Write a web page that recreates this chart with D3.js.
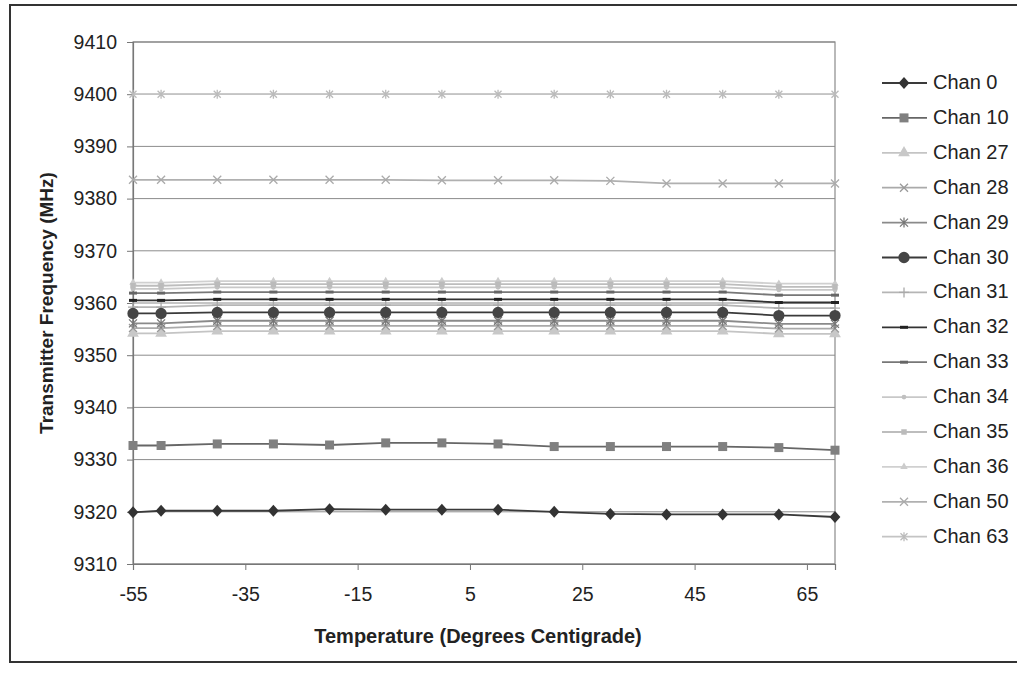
<!DOCTYPE html>
<html>
<head>
<meta charset="utf-8">
<script src="https://cdn.jsdelivr.net/npm/d3@7"></script>
<style>
  body { margin: 0; background: #fff; }
  svg { display: block; font-family: "Liberation Sans", Arial, sans-serif; }
</style>
</head>
<body>
<svg id="chart" width="1017" height="674"></svg>
<script>
// temperatures (deg C) where each channel was measured
const temps = [-55, -50, -40, -30, -20, -10, 0, 10, 20, 30, 40, 50, 60, 70];

const chan0  = [9319.9, 9320.2, 9320.2, 9320.2, 9320.5, 9320.4, 9320.4, 9320.4, 9320.0, 9319.6, 9319.5, 9319.5, 9319.5, 9319.0];
const chan10 = [9332.7, 9332.7, 9333.0, 9333.0, 9332.8, 9333.2, 9333.2, 9333.0, 9332.5, 9332.5, 9332.5, 9332.5, 9332.3, 9331.8];
const chan27 = [9354.2, 9354.2, 9354.6, 9354.6, 9354.6, 9354.6, 9354.6, 9354.6, 9354.6, 9354.6, 9354.6, 9354.6, 9354.1, 9354.1];
const chan28 = [9355.2, 9355.2, 9355.6, 9355.6, 9355.6, 9355.6, 9355.6, 9355.6, 9355.6, 9355.6, 9355.6, 9355.6, 9355.1, 9355.1];
const chan29 = [9356.1, 9356.1, 9356.6, 9356.6, 9356.6, 9356.6, 9356.6, 9356.6, 9356.6, 9356.6, 9356.6, 9356.6, 9356.0, 9356.0];
const chan30 = [9358.0, 9358.0, 9358.2, 9358.2, 9358.2, 9358.2, 9358.2, 9358.2, 9358.2, 9358.2, 9358.2, 9358.2, 9357.6, 9357.6];
const chan31 = [9359.2, 9359.2, 9359.6, 9359.6, 9359.6, 9359.6, 9359.6, 9359.6, 9359.6, 9359.6, 9359.6, 9359.6, 9359.0, 9359.0];
const chan32 = [9360.5, 9360.5, 9360.7, 9360.7, 9360.7, 9360.7, 9360.7, 9360.7, 9360.7, 9360.7, 9360.7, 9360.7, 9360.1, 9360.1];
const chan33 = [9361.9, 9361.9, 9362.1, 9362.1, 9362.1, 9362.1, 9362.1, 9362.1, 9362.1, 9362.1, 9362.1, 9362.1, 9361.5, 9361.5];
const chan34 = [9362.7, 9362.7, 9363.0, 9363.0, 9363.0, 9363.0, 9363.0, 9363.0, 9363.0, 9363.0, 9363.0, 9363.0, 9362.5, 9362.5];
const chan35 = [9363.3, 9363.3, 9363.6, 9363.6, 9363.6, 9363.6, 9363.6, 9363.6, 9363.6, 9363.6, 9363.6, 9363.6, 9363.1, 9363.1];
const chan36 = [9363.9, 9363.9, 9364.2, 9364.2, 9364.2, 9364.2, 9364.2, 9364.2, 9364.2, 9364.2, 9364.2, 9364.2, 9363.7, 9363.7];
const chan50 = [9383.6, 9383.6, 9383.6, 9383.6, 9383.6, 9383.6, 9383.5, 9383.5, 9383.5, 9383.4, 9382.9, 9382.9, 9382.9, 9382.9];
const chan63 = [9400.0, 9400.0, 9400.0, 9400.0, 9400.0, 9400.0, 9400.0, 9400.0, 9400.0, 9400.0, 9400.0, 9400.0, 9400.0, 9400.0];

const channelNames = ["Chan 0", "Chan 10", "Chan 27", "Chan 28", "Chan 29", "Chan 30", "Chan 31",
  "Chan 32", "Chan 33", "Chan 34", "Chan 35", "Chan 36", "Chan 50", "Chan 63"];
const channelValues = [chan0, chan10, chan27, chan28, chan29, chan30, chan31,
  chan32, chan33, chan34, chan35, chan36, chan50, chan63];

const xTicks = [-55, -35, -15, 5, 25, 45, 65];
const yTicks = [9310, 9320, 9330, 9340, 9350, 9360, 9370, 9380, 9390, 9400, 9410];

// look of each series: marker kind, line colour, marker colour
const styles = [
  { m: "diamond", line: "#3a3a3a", fill: "#333", s: 6 },
  { m: "square",  line: "#666",    fill: "#808080", s: 81 },
  { m: "triangle",line: "#c4c4c4", fill: "#c8c8c8", s: 60 },
  { m: "x",       line: "#aaa",    fill: "#999", s: 4 },
  { m: "star",    line: "#8a8a8a", fill: "#777", s: 4 },
  { m: "circle",  line: "#3a3a3a", fill: "#454545", s: 100 },
  { m: "plus",    line: "#b5b5b5", fill: "#aaa", s: 5 },
  { m: "dash",    line: "#333",    fill: "#222", s: 4 },
  { m: "dash",    line: "#777",    fill: "#666", s: 4 },
  { m: "circle",  line: "#c8c8c8", fill: "#c0c0c0", s: 18 },
  { m: "square",  line: "#bdbdbd", fill: "#bbb", s: 30 },
  { m: "triangle",line: "#d0d0d0", fill: "#ccc", s: 24 },
  { m: "x",       line: "#b0b0b0", fill: "#aaa", s: 4 },
  { m: "star",    line: "#c4c4c4", fill: "#bbb", s: 3.5 }
];

const svg = d3.select("#chart");

// page frame around the figure
svg.append("rect")
  .attr("x", 10).attr("y", 5).attr("width", 1030).attr("height", 657)
  .attr("fill", "none").attr("stroke", "#333").attr("stroke-width", 2);

const plot = { left: 133, right: 835, top: 42, bottom: 564 };

const x = d3.scaleLinear().domain([-55, 70]).range([plot.left, plot.right]);
const y = d3.scaleLinear().domain([9310, 9410]).range([plot.bottom, plot.top]);

// horizontal gridlines
svg.append("g")
  .selectAll("line")
  .data(yTicks)
  .join("line")
    .attr("x1", plot.left).attr("x2", plot.right)
    .attr("y1", d => y(d)).attr("y2", d => y(d))
    .attr("stroke", "#8c8c8c").attr("stroke-width", 1);

// plot box
svg.append("rect")
  .attr("x", plot.left).attr("y", plot.top)
  .attr("width", plot.right - plot.left).attr("height", plot.bottom - plot.top)
  .attr("fill", "none").attr("stroke", "#8a8a8a").attr("stroke-width", 1.2);

const yAxis = svg.append("g")
  .attr("transform", `translate(${plot.left},0)`)
  .call(d3.axisLeft(y).tickValues(yTicks).tickFormat(d => String(d)).tickSize(6).tickPadding(10));

const xAxis = svg.append("g")
  .attr("transform", `translate(0,${plot.bottom})`)
  .call(d3.axisBottom(x).tickValues(xTicks).tickFormat(d => String(d)).tickSize(6).tickPadding(17));

[yAxis, xAxis].forEach(a => {
  a.select(".domain").attr("stroke", "#777").attr("stroke-width", 1.2);
  a.selectAll(".tick line").attr("stroke", "#777");
  a.selectAll(".tick text")
    .attr("fill", "#222")
    .style("font-size", "19.5px")
    .style("font-family", "'Liberation Sans', Arial, sans-serif");
});

// marker drawing
function marker(g, st) {
  const k = st.m;
  if (k === "diamond") {
    const r = st.s;
    g.append("path").attr("d", `M0,${-r}L${r * 0.9},0L0,${r}L${-r * 0.9},0Z`)
      .attr("fill", st.fill);
  } else if (k === "square" || k === "triangle" || k === "circle") {
    const type = { square: d3.symbolSquare, triangle: d3.symbolTriangle, circle: d3.symbolCircle }[k];
    g.append("path").attr("d", d3.symbol().type(type).size(st.s)())
      .attr("fill", st.fill).attr("stroke", "none");
  } else {
    const r = st.s;
    let d = "";
    if (k === "x") d = `M${-r},${-r}L${r},${r}M${-r},${r}L${r},${-r}`;
    if (k === "star") d = `M${-r},${-r}L${r},${r}M${-r},${r}L${r},${-r}M0,${-r - 1}L0,${r + 1}`;
    if (k === "plus") d = `M${-r},0L${r},0M0,${-r}L0,${r}`;
    if (k === "dash") d = `M${-r},0L${r},0`;
    g.append("path").attr("d", d).attr("fill", "none")
      .attr("stroke", st.fill).attr("stroke-width", k === "dash" ? 3 : 1.3);
  }
}

const line = d3.line().x(d => x(d[0])).y(d => y(d[1]));

const seriesG = svg.append("g");
// draw light series first so the dark ones sit on top
const order = d3.range(channelNames.length).sort((a, b) =>
  d3.hsl(styles[b].line).l - d3.hsl(styles[a].line).l);

order.forEach(i => {
  const pts = temps.map((t, j) => [t, channelValues[i][j]]);
  const st = styles[i];
  const g = seriesG.append("g");
  g.append("path").attr("d", line(pts))
    .attr("fill", "none").attr("stroke", st.line).attr("stroke-width", 1.8);
  g.selectAll("g.pt")
    .data(pts)
    .join("g")
      .attr("class", "pt")
      .attr("transform", d => `translate(${x(d[0])},${y(d[1])})`)
      .each(function () { marker(d3.select(this), st); });
});

// legend
const legend = svg.append("g").attr("transform", "translate(882,83)");
channelNames.forEach((name, i) => {
  const st = styles[i];
  const row = legend.append("g").attr("transform", `translate(0,${i * 34.9})`);
  row.append("line").attr("x1", 0).attr("x2", 45)
    .attr("stroke", st.line).attr("stroke-width", 1.8);
  marker(row.append("g").attr("transform", "translate(22,0)"), st);
  row.append("text").attr("x", 51).attr("y", 6)
    .attr("fill", "#222").style("font-size", "20px").text(name);
});

// axis titles
svg.append("text")
  .attr("transform", `translate(53,${(plot.top + plot.bottom) / 2}) rotate(-90)`)
  .attr("text-anchor", "middle")
  .style("font-size", "19px").style("font-weight", "bold").attr("fill", "#222")
  .text("Transmitter Frequency (MHz)");

svg.append("text")
  .attr("x", 478).attr("y", 643)
  .attr("text-anchor", "middle")
  .style("font-size", "20px").style("font-weight", "bold").attr("fill", "#222")
  .text("Temperature (Degrees Centigrade)");
</script>
</body>
</html>
